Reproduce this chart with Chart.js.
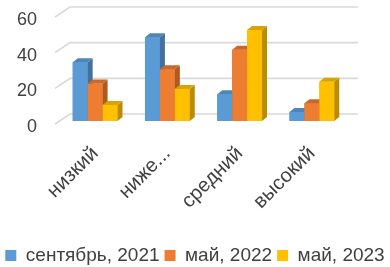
<!DOCTYPE html>
<html><head><meta charset="utf-8">
<script src="https://cdn.jsdelivr.net/npm/chart.js@4.4.1/dist/chart.umd.min.js"></script>
<style>html,body{margin:0;padding:0;background:#fff}#wrap{width:390px;height:267px}</style>
</head><body><div id="wrap"><canvas id="c"></canvas></div>
<script>
const categories = ['низкий', 'ниже...', 'средний', 'высокий'];
const seriesNames = ['сентябрь, 2021', 'май, 2022', 'май, 2023'];
const sep2021 = [33, 47, 15, 5];
const may2022 = [21, 29, 40, 10];
const may2023 = [9, 18, 51, 22];
const yTicks = [0, 20, 40, 60];

const fronts = ['#5B9BD5', '#ED7D31', '#FFC000'];
const sides = ['#41719C', '#AE5A21', '#BC8C00'];
const tops = ['#4E86B8', '#C8692A', '#D9A300'];
const DX = 5, DY = 4;

const threeD = {
  id: 'threeD',
  beforeDatasetsDraw(chart) {
    const ctx = chart.ctx, ys = chart.scales.y, a = chart.chartArea;
    ctx.save();
    ctx.strokeStyle = '#D9D9D9';
    ctx.lineWidth = 1.6;
    yTicks.forEach(v => {
      const y = ys.getPixelForValue(v);
      ctx.beginPath();
      ctx.moveTo(a.left - 4, y + 3);
      ctx.lineTo(a.left + 11, y - 7);
      ctx.lineTo(a.right + 10, y - 7);
      ctx.stroke();
    });
    ctx.restore();
  },
  afterDatasetsDraw(chart) {
    const ctx = chart.ctx;
    const n = chart.data.labels.length;
    ctx.save();
    for (let i = 0; i < n; i++) {
      chart.data.datasets.forEach((ds, d) => {
        const el = chart.getDatasetMeta(d).data[i];
        const l = el.x - el.width / 2, r = el.x + el.width / 2, t = el.y, b = el.base;
        ctx.fillStyle = fronts[d];
        ctx.fillRect(l, t, r - l, b - t);
        ctx.fillStyle = sides[d];
        ctx.beginPath();
        ctx.moveTo(r, t); ctx.lineTo(r + DX, t - DY); ctx.lineTo(r + DX, b - DY); ctx.lineTo(r, b);
        ctx.closePath(); ctx.fill();
        ctx.fillStyle = tops[d];
        ctx.beginPath();
        ctx.moveTo(l, t); ctx.lineTo(l + DX, t - DY); ctx.lineTo(r + DX, t - DY); ctx.lineTo(r, t);
        ctx.closePath(); ctx.fill();
      });
    }
    ctx.restore();
  }
};

const FONT = "'Liberation Sans', Arial, sans-serif";
const TXT = '#404040';

new Chart(document.getElementById('c'), {
  type: 'bar',
  data: {
    labels: categories,
    datasets: [
      { label: seriesNames[0], data: sep2021, backgroundColor: fronts[0] },
      { label: seriesNames[1], data: may2022, backgroundColor: fronts[1] },
      { label: seriesNames[2], data: may2023, backgroundColor: fronts[2] }
    ]
  },
  options: {
    responsive: true,
    maintainAspectRatio: false,
    animation: false,
    datasets: { bar: { barPercentage: 1, categoryPercentage: 0.62 } },
    layout: { padding: { left: 0, right: 0, top: 14, bottom: -8 } },
    scales: {
      x: {
        afterFit: s => { s.height = 120; },
        grid: { display: false, drawTicks: false },
        border: { display: false },
        ticks: { autoSkip: false, maxRotation: 45, minRotation: 45, padding: 21, color: TXT, font: { family: FONT, size: 20 } }
      },
      y: {
        min: 0, max: 60,
        afterBuildTicks: s => { s.ticks = yTicks.map(v => ({ value: v })); },
        afterFit: s => { s.width = 59; s.paddingTop = 0; s.paddingBottom = 0; },
        grid: { display: false, drawTicks: false },
        border: { display: false },
        ticks: { autoSkip: false, padding: 22, labelOffset: 6, color: TXT, font: { family: FONT, size: 18 } }
      },
      yr: {
        position: 'right',
        afterFit: s => { s.width = 42; s.paddingTop = 0; s.paddingBottom = 0; },
        grid: { display: false, drawTicks: false },
        border: { display: false },
        ticks: { display: false }
      }
    },
    plugins: {
      tooltip: { enabled: false },
      legend: {
        position: 'bottom',
        labels: { boxWidth: 11, boxHeight: 11, padding: 5, color: TXT, font: { family: FONT, size: 19 } }
      }
    }
  },
  plugins: [threeD]
});
</script>
</body></html>
